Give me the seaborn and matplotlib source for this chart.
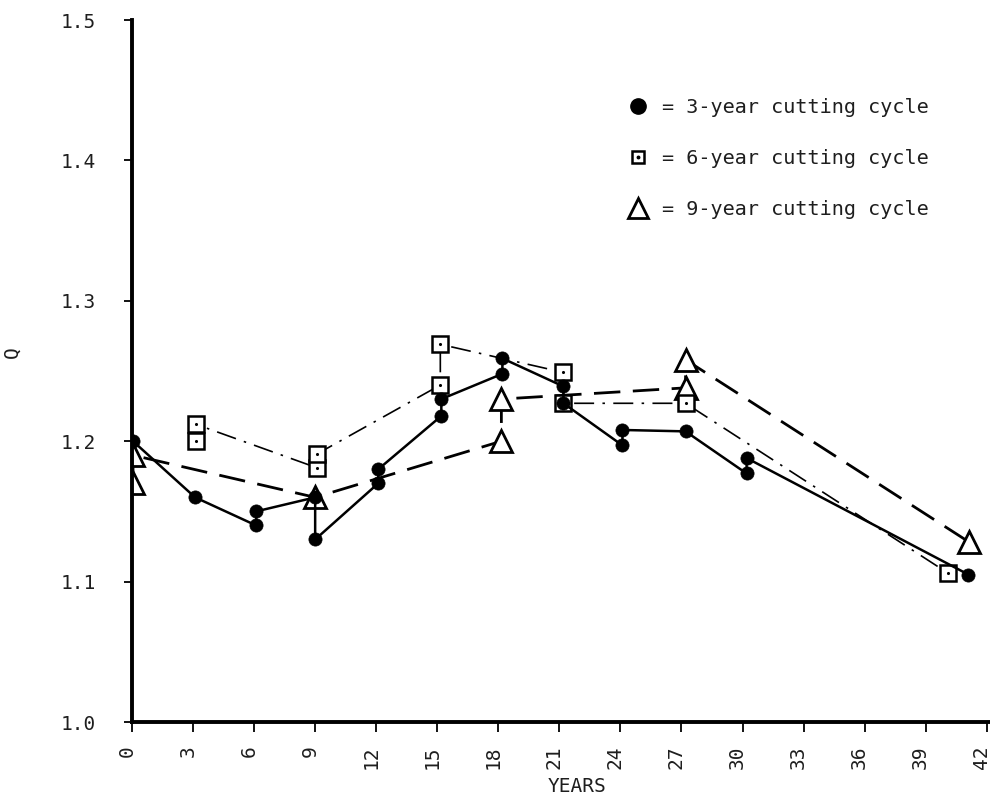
import matplotlib
matplotlib.use("Agg")
import matplotlib.pyplot as plt
import matplotlib.transforms as mtransforms
from matplotlib.lines import Line2D
import pandas as pd
import seaborn as sns

# Q over time for three cutting cycles; paired values at one date are the
# readings just before and just after a cut, listed in drawing order.
years_3yr = [0.05, 3.1, 6.1, 6.1, 9.0, 9.0, 12.1, 12.1, 15.2, 15.2, 18.2, 18.2,
             21.2, 21.2, 24.1, 24.1, 27.2, 30.2, 30.2, 41.1]
q_3yr = [1.200, 1.160, 1.140, 1.150, 1.160, 1.130, 1.170, 1.180, 1.218, 1.230,
         1.248, 1.259, 1.239, 1.227, 1.197, 1.208, 1.207, 1.177, 1.188, 1.105]

years_6yr = [3.15, 3.15, 9.1, 9.1, 15.15, 15.15, 21.2, 21.2, 27.2, 40.1]
q_6yr = [1.200, 1.212, 1.181, 1.191, 1.240, 1.269, 1.249, 1.227, 1.227, 1.106]

years_9yr = [0.05, 0.05, 9.0, 18.15, 18.15, 27.2, 27.2, 41.15]
q_9yr = [1.170, 1.190, 1.160, 1.200, 1.230, 1.238, 1.258, 1.128]

x_ticks = list(range(0, 43, 3))
y_ticks = [1.0, 1.1, 1.2, 1.3, 1.4, 1.5]
y_tick_labels = ["1.0", "1.1", "1.2", "1.3", "1.4", "1.5"]
legend_labels = ["= 3-year cutting cycle", "= 6-year cutting cycle",
                 "= 9-year cutting cycle"]

sns.set_theme(style="ticks")
plt.rcParams["font.family"] = ["DejaVu Sans Mono", "DejaVu Sans"]
ink = "#1e1e1e"

fig = plt.figure(figsize=(9.9, 7.98), dpi=100)
ax = fig.add_axes([132 / 990, 76 / 798, 858 / 990, 702 / 798])

df3 = pd.DataFrame({"year": years_3yr, "q": q_3yr})
df6 = pd.DataFrame({"year": years_6yr, "q": q_6yr})
df9 = pd.DataFrame({"year": years_9yr, "q": q_9yr})

# 9-year cycle: long dashes, open triangles
sns.lineplot(data=df9, x="year", y="q", sort=False, estimator=None, ax=ax,
             color="black", lw=2.0, linestyle=(0, (9.5, 4.5)),
             marker="^", markersize=16.5, mfc="white", mec="black", mew=2.0,
             zorder=2.0)
# 6-year cycle: thin dash-dot, open squares with a centre dot
sns.lineplot(data=df6, x="year", y="q", sort=False, estimator=None, ax=ax,
             color="black", lw=1.2, linestyle=(0, (12, 5, 1.5, 5)),
             marker="s", markersize=12, mfc="white", mec="black", mew=1.8,
             zorder=2.1)
sns.scatterplot(data=df6, x="year", y="q", ax=ax, marker="o", s=5,
                color="black", linewidth=0, zorder=2.15)
# 3-year cycle: solid line, filled circles
sns.lineplot(data=df3, x="year", y="q", sort=False, estimator=None, ax=ax,
             color="black", lw=1.8, marker="o", markersize=9.5,
             mfc="black", mec="black", mew=0.5, zorder=2.2)

ax.set_xlim(0, 42.16)
ax.set_ylim(1.0, 1.5)
ax.set_xticks(x_ticks)
ax.set_xticklabels([str(v) for v in x_ticks])
ax.set_yticks(y_ticks)
ax.set_yticklabels(y_tick_labels)

sns.despine(ax=ax)
for side in ("left", "bottom"):
    ax.spines[side].set_linewidth(2.8)
    ax.spines[side].set_color("black")

ax.tick_params(axis="y", length=6, width=1.3, pad=20, labelsize=14,
               colors="black", labelcolor=ink, direction="out")
ax.tick_params(axis="x", length=7, width=1.3, pad=10, labelsize=14,
               colors="black", labelcolor=ink, direction="out",
               labelrotation=90)
shift = mtransforms.ScaledTranslation(-5 / 100, 0, fig.dpi_scale_trans)
for lab in ax.get_xticklabels():
    lab.set_transform(lab.get_transform() + shift)

ax.set_xlabel("YEARS", fontsize=14, color=ink)
ax.xaxis.set_label_coords(0.5187, -0.0785)
ax.set_ylabel("Q", fontsize=14, color=ink)
ax.yaxis.set_label_coords(-0.129, 0.527)

handles = [
    Line2D([], [], ls="none", marker="o", markersize=11, mfc="black",
           mec="black"),
    (Line2D([], [], ls="none", marker="s", markersize=8.5, mfc="white",
            mec="black", mew=1.8),
     Line2D([], [], ls="none", marker="o", markersize=1.8, mfc="black",
            mec="black")),
    Line2D([], [], ls="none", marker="^", markersize=15, mfc="white",
           mec="black", mew=2.0),
]
ax.legend(handles, legend_labels, loc="upper left",
          bbox_to_anchor=(628 / 990, 1 - 98 / 798),
          bbox_transform=fig.transFigure, frameon=False, fontsize=14.5,
          handlelength=1.0, handletextpad=0.7, labelspacing=1.6,
          borderpad=0, borderaxespad=0, labelcolor=ink)

fig.savefig("out.png", dpi=100)
